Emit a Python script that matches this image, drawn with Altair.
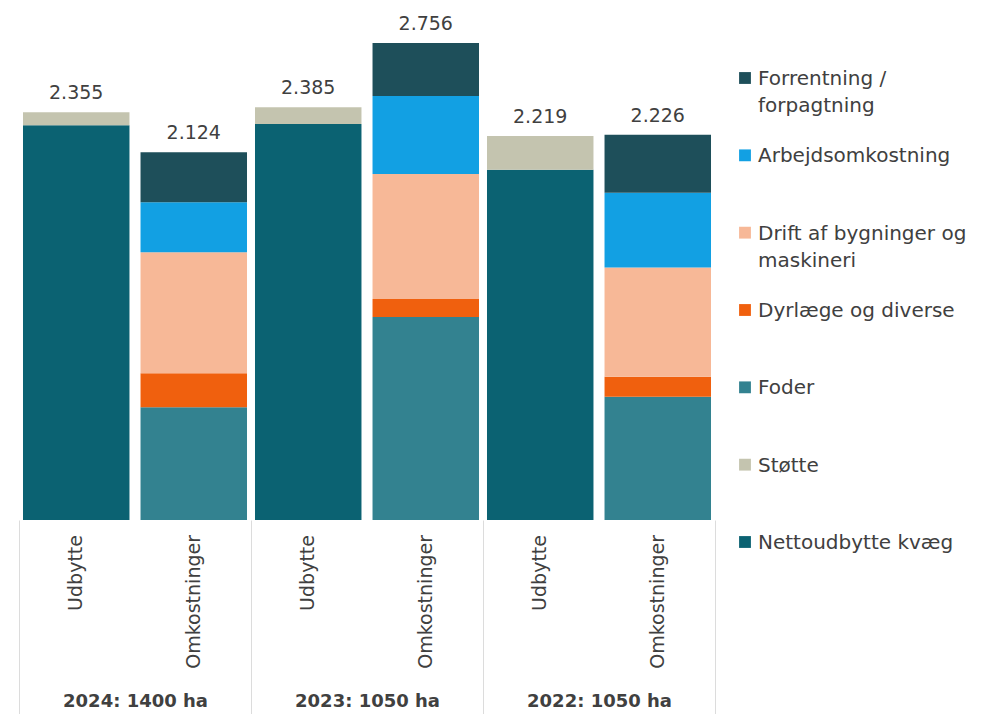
import altair as alt
import pandas as pd

groups = ["2024: 1400 ha", "2023: 1050 ha", "2022: 1050 ha"]
types = ["Udbytte", "Omkostninger"]

categories = [
    "Forrentning / forpagtning",
    "Arbejdsomkostning",
    "Drift af bygninger og maskineri",
    "Dyrlæge og diverse",
    "Foder",
    "Støtte",
    "Nettoudbytte kvæg",
]
legend_labels = [
    "Forrentning /|forpagtning",
    "Arbejdsomkostning",
    "Drift af bygninger og|maskineri",
    "Dyrlæge og diverse",
    "Foder",
    "Støtte",
    "Nettoudbytte kvæg",
]
colors = ["#1E4F5A", "#12A0E3", "#F7B897", "#F0600E", "#338290", "#C4C4AF", "#0B6272"]

# values per group (2024, 2023, 2022)
nettoudbytte = [2280, 2287, 2023]
stotte = [75, 98, 196]
foder = [652, 1173, 712]
dyrlaege = [196, 104, 116]
drift = [699, 722, 630]
arbejds = [289, 451, 433]
forrentning = [288, 306, 335]

series = [
    ("Udbytte", "Nettoudbytte kvæg", nettoudbytte, 0),
    ("Udbytte", "Støtte", stotte, 1),
    ("Omkostninger", "Foder", foder, 2),
    ("Omkostninger", "Dyrlæge og diverse", dyrlaege, 3),
    ("Omkostninger", "Drift af bygninger og maskineri", drift, 4),
    ("Omkostninger", "Arbejdsomkostning", arbejds, 5),
    ("Omkostninger", "Forrentning / forpagtning", forrentning, 6),
]

rows = []
for typ, cat, vals, order in series:
    for g, v in zip(groups, vals):
        rows.append({"group": g, "type": typ, "category": cat, "value": v, "order": order})
df = pd.DataFrame(rows)

tot = df.groupby(["group", "type"], as_index=False)["value"].sum().rename(columns={"value": "total"})
tot["label"] = tot["total"].map(lambda t: f"{t:,}".replace(",", "."))

leg_df = pd.DataFrame({"category": categories, "label": legend_labels})

FONT = "DejaVu Sans"
TXT = "#404040"

x_enc = alt.X(
    "group:N",
    sort=groups,
    title=None,
    scale=alt.Scale(paddingInner=0, paddingOuter=0),
    axis=alt.Axis(
        domain=False,
        tickBand="extent",
        tickSize=194,
        tickColor="#DCDCDC",
        tickWidth=1,
        labelAngle=0,
        labelPadding=-22,
        labelFont=FONT,
        labelFontSize=18,
        labelFontWeight="bold",
        labelColor=TXT,
    ),
)
xo_enc = alt.XOffset("type:N", sort=types, scale=alt.Scale(paddingInner=0.094, paddingOuter=0.034))
y_scale = alt.Scale(domain=[0, 2900], nice=False)

bars = alt.Chart(df).mark_bar().encode(
    x=x_enc,
    xOffset=xo_enc,
    y=alt.Y("value:Q", stack="zero", scale=y_scale, axis=None),
    color=alt.Color("category:N", scale=alt.Scale(domain=categories, range=colors), legend=None),
    order=alt.Order("order:Q", sort="ascending"),
)

totals = alt.Chart(tot).mark_text(
    baseline="alphabetic", dy=-13, fontSize=19, font=FONT, color=TXT
).encode(
    x=x_enc,
    xOffset=xo_enc,
    y=alt.Y("total:Q", scale=y_scale, axis=None),
    text="label:N",
)

type_labels = alt.Chart(tot).mark_text(
    angle=270, align="right", baseline="middle", dx=-15, fontSize=19, font=FONT, color=TXT
).encode(
    x=x_enc,
    xOffset=xo_enc,
    y=alt.datum(0),
    text="type:N",
)

main = alt.layer(bars, totals, type_labels).properties(width=696, height=502)

leg_y = alt.Y("category:N", sort=categories, axis=None,
              scale=alt.Scale(range=[60, 524], padding=0))
leg_sym = alt.Chart(leg_df).mark_square(size=140, opacity=1).encode(
    x=alt.value(9),
    y=leg_y,
    color=alt.Color("category:N", scale=alt.Scale(domain=categories, range=colors), legend=None),
)
leg_txt = alt.Chart(leg_df).mark_text(
    align="left", baseline="alphabetic", dy=7, lineBreak="|", lineHeight=27,
    fontSize=20, font=FONT, color=TXT
).encode(
    x=alt.value(22),
    y=leg_y,
    text="label:N",
)
legend = alt.layer(leg_sym, leg_txt).properties(width=220, height=560)

chart = alt.hconcat(main, legend, spacing=20).properties(
    padding={"left": 10, "top": 6, "right": 5, "bottom": 0}
).configure_view(stroke=None).resolve_scale(color="shared")

chart.save("out.html", embed_options={"renderer": "svg", "actions": False})
